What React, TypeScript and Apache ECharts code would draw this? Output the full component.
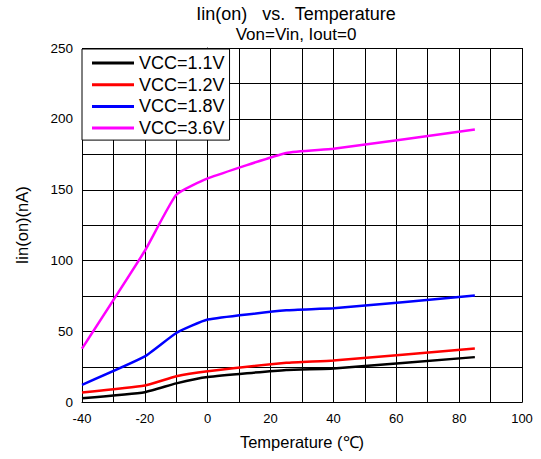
import React, { useEffect, useRef } from "react";
import * as echarts from "echarts";

const temps = [-40, -20, -10, 0, 25, 40, 85];
const vcc11 = [3, 7.3, 13.5, 18, 23, 24, 32];
const vcc12 = [7, 12, 18.5, 22, 28, 29.7, 38];
const vcc18 = [12.5, 32.5, 49, 58.5, 65, 66.4, 75.5];
const vcc36 = [38, 107, 146.5, 158, 176, 179, 192.5];
const seriesNames = ["VCC=1.1V", "VCC=1.2V", "VCC=1.8V", "VCC=3.6V"];
const seriesColors = ["#000000", "#ff0000", "#0000ff", "#ff00ff"];

const FONT = "'Liberation Sans', Arial, sans-serif";

export default function App() {
  const ref = useRef<HTMLDivElement>(null);
  useEffect(() => {
    if (!ref.current) return;
    const chart = echarts.init(ref.current, null, { renderer: "svg" });
    const data = [vcc11, vcc12, vcc18, vcc36];
    chart.setOption({
      animation: false,
      backgroundColor: "#ffffff",
      textStyle: { fontFamily: FONT },
      title: {
        text: "Iin(on)   vs.  Temperature",
        subtext: "Von=Vin, Iout=0",
        left: 291,
        textAlign: "center",
        top: 0,
        itemGap: 3,
        textStyle: { fontFamily: FONT, fontSize: 18, fontWeight: "normal", color: "#000" },
        subtextStyle: { fontFamily: FONT, fontSize: 17, color: "#000" },
      },
      legend: {
        orient: "vertical",
        left: 82,
        top: 49,
        backgroundColor: "#ffffff",
        borderColor: "#000",
        borderWidth: 1,
        borderRadius: 0,
        padding: [5, 5, 3, 10],
        itemWidth: 42,
        itemHeight: 3,
        itemGap: 3.7,
        itemTextGap: 5,
        icon: "rect",
        textStyle: { fontFamily: FONT, fontSize: 18, color: "#000" },
        data: seriesNames,
      },
      grid: { left: 82, right: 19, top: 48, bottom: 56.5, containLabel: false },
      xAxis: {
        type: "value",
        min: -40,
        max: 100,
        interval: 10,
        name: "Temperature (℃)",
        nameLocation: "middle",
        nameGap: 31,
        nameTextStyle: { fontFamily: FONT, fontSize: 16.5, color: "#000" },
        axisLine: { show: true, onZero: false, lineStyle: { color: "#000", width: 1 } },
        axisTick: { show: false },
        axisLabel: {
          color: "#000",
          fontFamily: FONT,
          fontSize: 13,
          margin: 9,
          formatter: (v: number) => (v % 20 === 0 ? String(v) : ""),
        },
        splitLine: { show: true, lineStyle: { color: "#000", width: 1 } },
      },
      yAxis: {
        type: "value",
        min: 0,
        max: 250,
        interval: 25,
        name: "Iin(on)(nA)",
        nameLocation: "middle",
        nameGap: 52,
        nameTextStyle: { fontFamily: FONT, fontSize: 16.5, color: "#000" },
        axisLine: { show: true, lineStyle: { color: "#000", width: 1 } },
        axisTick: { show: false },
        axisLabel: {
          color: "#000",
          fontFamily: FONT,
          fontSize: 13.5,
          margin: 9,
          formatter: (v: number) => (v % 50 === 0 ? String(v) : ""),
        },
        splitLine: { show: true, lineStyle: { color: "#000", width: 1 } },
      },
      series: data.map((d, i) => ({
        name: seriesNames[i],
        type: "line",
        data: temps.map((t, j) => [t, d[j]]),
        showSymbol: false,
        symbol: "none",
        smooth: 0.15,
        lineStyle: { color: seriesColors[i], width: 2.5 },
        itemStyle: { color: seriesColors[i] },
        z: 3,
      })),
    });
    return () => chart.dispose();
  }, []);
  return <div ref={ref} style={{ width: 541, height: 459, position: "absolute", left: 0, top: 0 }} />;
}
